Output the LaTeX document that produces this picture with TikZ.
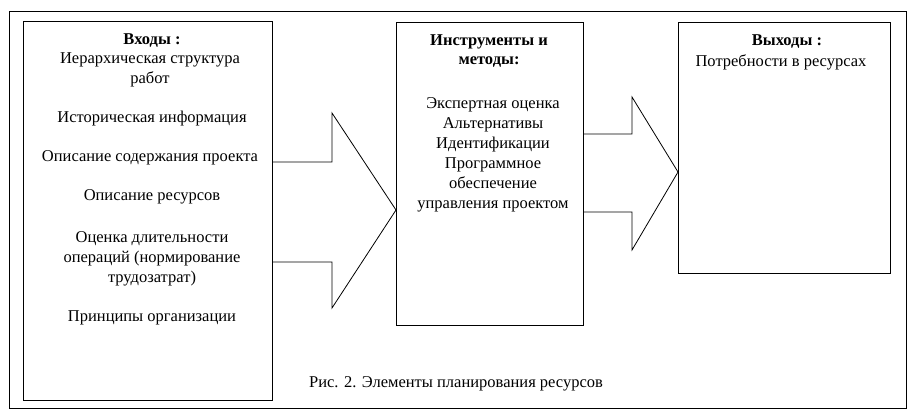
\documentclass[tikz,border=0pt]{standalone}
\usepackage{fontspec}
\setmainfont{Liberation Serif}
\begin{document}
\begin{tikzpicture}[x=1pt,y=-1pt,
    box/.style={draw,thick,fill=white},
    txt/.style={align=center,font=\fontsize{16.5}{20}\selectfont},
    head/.style={font=\fontsize{16.5}{19}\selectfont\bfseries,align=center}]
\useasboundingbox (0,0) rectangle (915,416);
\draw (9,11) rectangle (906,408);
% boxes
\draw[box] (23,21) rectangle (272,400);
\draw[box] (396,22) rectangle (583,325);
\draw[box] (678,22) rectangle (890,273);
% arrows
\draw[thick] (272,162) -- (332,162) -- (332,113) -- (396,210) -- (332,308) -- (332,262) -- (272,262);
\draw[thick] (583,134) -- (632,134) -- (632,97) -- (678,172) -- (632,250) -- (632,212) -- (583,212);
% inputs
\node[head] (in) at (152,41) {Входы :};
\node[txt] (in1) at (150,70) {Иерархическая структура\\работ};
\node[txt] (in2) at (152,119) {Историческая информация};
\node[txt] (in3) at (150,158) {Описание содержания проекта};
\node[txt] (in4) at (152,197) {Описание ресурсов};
\node[txt] (in5) at (152,259) {Оценка длительности\\операций (нормирование\\трудозатрат)};
\node[txt] (in6) at (152,318) {Принципы организации};
% tools
\node[head] (tl) at (489,51) {Инструменты и\\методы:};
\node[txt] (tl1) at (493,155) {Экспертная оценка\\Альтернативы\\Идентификации\\Программное\\обеспечение\\управления проектом};
% outputs
\node[head] (out) at (787,42) {Выходы :};
\node[txt] (out1) at (781,62) {Потребности в ресурсах};
\node[txt] (cap) at (456,384) {Рис. 2. Элементы планирования ресурсов};
\end{tikzpicture}
\end{document}
